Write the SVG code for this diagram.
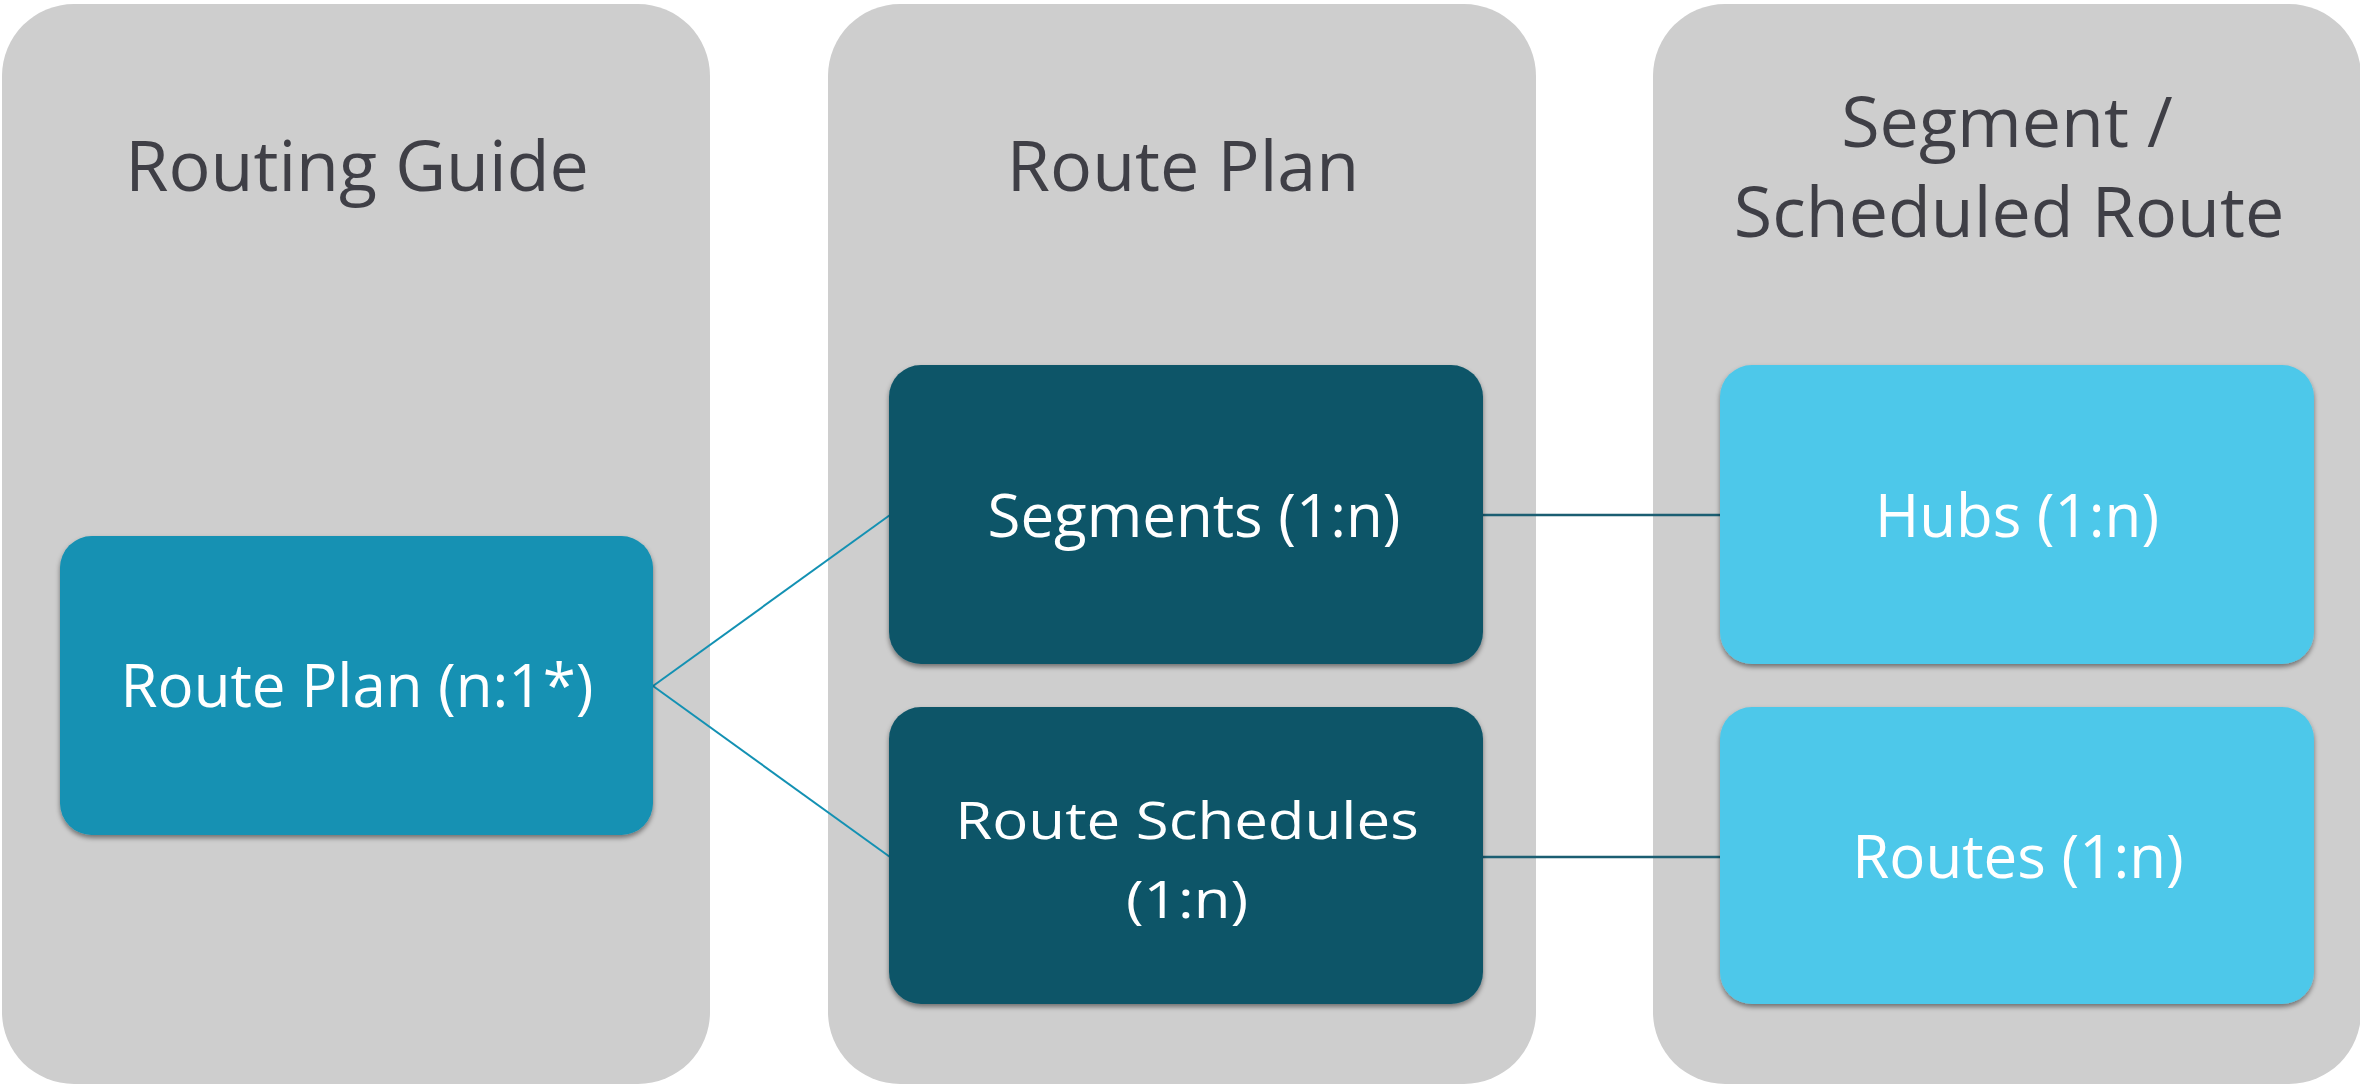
<svg xmlns="http://www.w3.org/2000/svg" width="2360" height="1085" viewBox="0 0 2360 1085">
<style>
.panel{fill:#CECECE}
.head{font-family:"Open Sans","Noto Sans",sans-serif;font-size:70px;fill:#3F3F46;text-anchor:middle}
.lbl{font-family:"Open Sans","Noto Sans",sans-serif;font-size:60px;fill:#FFFFFF;text-anchor:middle}
.node{filter:url(#sh)}
.c1{stroke:#1391B3;stroke-width:2;fill:none}
.c2{stroke:#1B5E72;stroke-width:2.5;fill:none}
</style>
<defs>
<filter id="sh" x="-5%" y="-5%" width="110%" height="115%">
<feDropShadow dx="0" dy="3" stdDeviation="2.5" flood-color="#000" flood-opacity="0.45"/>
</filter>
</defs>
<rect width="2360" height="1085" fill="#FFFFFF"/>
<g id="panel-routing-guide">
<rect class="panel" x="2" y="4" width="708" height="1080" rx="72" ry="72"/>
<text class="head" x="357" y="191">Routing Guide</text>
</g>
<g id="panel-route-plan">
<rect class="panel" x="828" y="4" width="708" height="1080" rx="72" ry="72"/>
<text class="head" x="1183" y="191">Route Plan</text>
</g>
<g id="panel-segment">
<rect class="panel" x="1653" y="4" width="708" height="1080" rx="72" ry="72"/>
<text class="head" x="2007" y="147">Segment /</text>
<text class="head" x="2009" y="237">Scheduled Route</text>
</g>
<g id="connectors">
<line class="c1" x1="653" y1="686" x2="890" y2="515"/>
<line class="c1" x1="653" y1="686" x2="890" y2="857"/>
<line class="c2" x1="1483" y1="515" x2="1720" y2="515"/>
<line class="c2" x1="1483" y1="857" x2="1720" y2="857"/>
</g>
<g id="node-route-plan" class="node">
<rect x="60" y="536" width="593" height="299" rx="32" ry="32" fill="#1391B3"/>
<text class="lbl" x="357" y="707">Route Plan (n:1*)</text>
</g>
<g id="node-segments" class="node">
<rect x="889" y="365" width="594" height="299" rx="32" ry="32" fill="#0B5468"/>
<text class="lbl" x="1194" y="537">Segments (1:n)</text>
</g>
<g id="node-route-schedules" class="node">
<rect x="889" y="707" width="594" height="297" rx="32" ry="32" fill="#0B5468"/>
<text class="lbl" transform="translate(1187,839) scale(1,0.86)">Route Schedules</text>
<text class="lbl" transform="translate(1187,918) scale(1,0.86)">(1:n)</text>
</g>
<g id="node-hubs" class="node">
<rect x="1720" y="365" width="594" height="299" rx="32" ry="32" fill="#4DC8EA"/>
<text class="lbl" x="2017" y="537">Hubs (1:n)</text>
</g>
<g id="node-routes" class="node">
<rect x="1720" y="707" width="594" height="297" rx="32" ry="32" fill="#4DC8EA"/>
<text class="lbl" x="2018" y="878">Routes (1:n)</text>
</g>
</svg>
